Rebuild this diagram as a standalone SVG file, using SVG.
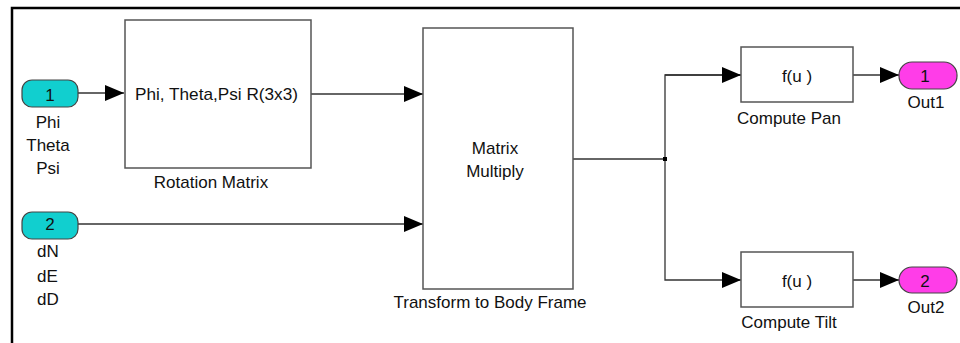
<svg xmlns="http://www.w3.org/2000/svg" width="960" height="343" viewBox="0 0 960 343">
<defs>
<style>
text{font-family:"Liberation Sans",Arial,sans-serif;font-size:17px;fill:#111}
.c{text-anchor:middle}
.blk{fill:#fff;stroke:#555;stroke-width:1.5}
.in{fill:#11CFCF;stroke:#444;stroke-width:1.2}
.out{fill:#FF3DE8;stroke:#444;stroke-width:1.2}
.w{fill:none;stroke:#333;stroke-width:1.3}
</style>
<marker id="ah" markerUnits="userSpaceOnUse" markerWidth="20" markerHeight="17" refX="19" refY="8" orient="auto">
<path d="M0,0 L19,8 L0,16 z" fill="#000"/>
</marker>
</defs>
<rect width="960" height="343" fill="#fff"/>
<g id="frame">
<path d="M12,343 V8 H960" fill="none" stroke="#000" stroke-width="2.5"/>
</g>
<g id="connectors">
<path class="w" d="M78,93 H124" marker-end="url(#ah)"/>
<path class="w" d="M311,94 H423" marker-end="url(#ah)"/>
<path class="w" d="M78,224 H423" marker-end="url(#ah)"/>
<path class="w" d="M573,159 H665"/>
<path class="w" d="M741,75 H665 V280 H741" marker-end="url(#ah)"/>
<path class="w" d="M665,75 H741" marker-end="url(#ah)"/>
<path class="w" d="M853,75 H899" marker-end="url(#ah)"/>
<path class="w" d="M853,280 H899" marker-end="url(#ah)"/>
<rect x="663" y="157" width="4" height="4" fill="#000"/>
</g>
<g id="in1">
<rect class="in" x="22" y="80" width="56" height="27" rx="10" ry="10"/>
<text class="c" x="50" y="101">1</text>
<text class="c" x="48" y="128">Phi</text>
<text class="c" x="48" y="151">Theta</text>
<text class="c" x="48" y="174">Psi</text>
</g>
<g id="in2">
<rect class="in" x="22" y="212" width="56" height="27" rx="10" ry="10"/>
<text class="c" x="50" y="230">2</text>
<text x="37" y="257">dN</text>
<text x="37" y="282">dE</text>
<text x="37" y="305">dD</text>
</g>
<g id="rotation">
<rect class="blk" x="125" y="20" width="186" height="148"/>
<text x="135" y="100" textLength="163" lengthAdjust="spacingAndGlyphs">Phi,  Theta,Psi R(3x3)</text>
<text class="c" x="211" y="188">Rotation Matrix</text>
</g>
<g id="transform">
<rect class="blk" x="423" y="28" width="150" height="261"/>
<text class="c" x="495" y="154">Matrix</text>
<text class="c" x="495" y="177">Multiply</text>
<text class="c" x="490" y="308">Transform to Body Frame</text>
</g>
<g id="pan">
<rect class="blk" x="741" y="47" width="112" height="55"/>
<text class="c" x="797" y="82">f(u )</text>
<text class="c" x="789" y="124">Compute Pan</text>
</g>
<g id="tilt">
<rect class="blk" x="741" y="252" width="112" height="55"/>
<text class="c" x="797" y="287">f(u )</text>
<text class="c" x="789" y="328">Compute Tilt</text>
</g>
<g id="out1">
<rect class="out" x="899" y="62" width="58" height="27" rx="13" ry="13"/>
<text class="c" x="925" y="82">1</text>
<text class="c" x="926" y="108">Out1</text>
</g>
<g id="out2">
<rect class="out" x="899" y="267" width="58" height="26" rx="13" ry="13"/>
<text class="c" x="925" y="287">2</text>
<text class="c" x="926" y="313">Out2</text>
</g>
</svg>
